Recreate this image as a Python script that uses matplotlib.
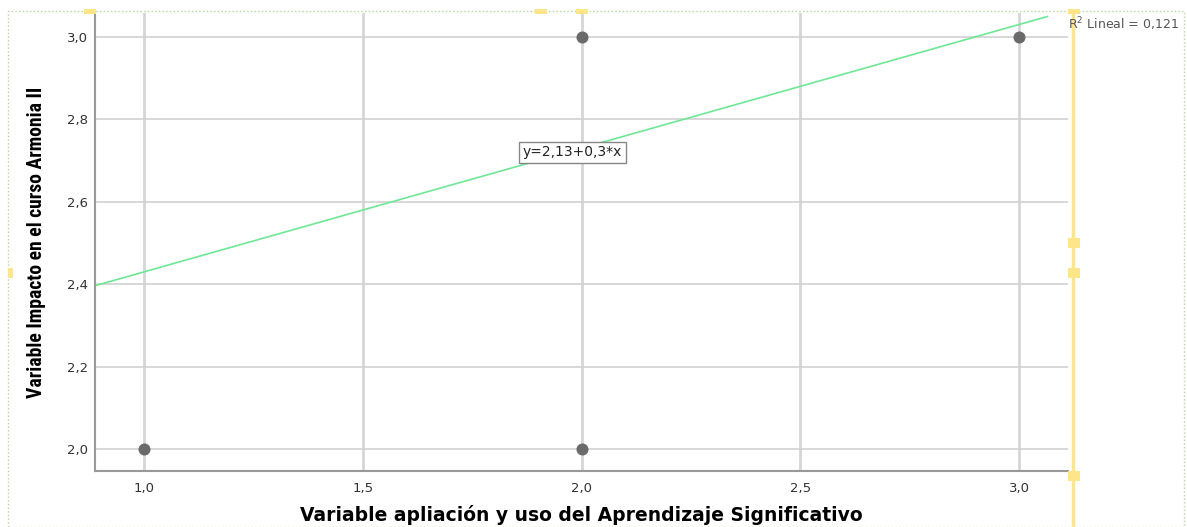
import matplotlib.pyplot as plt
import numpy as np
from matplotlib import font_manager
from matplotlib.patches import Rectangle
from matplotlib.lines import Line2D

# data
xValues = [1.0, 2.0, 2.0, 3.0]
yValues = [2.0, 2.0, 3.0, 3.0]
intercept = 2.13
slope = 0.3
rSquared = '0,121'
fitRange = [0.888, 3.065]
xTicks = [1.0, 1.5, 2.0, 2.5, 3.0]
yTicks = [2.0, 2.2, 2.4, 2.6, 2.8, 3.0]


def commaLabel(v):
    return ('%.1f' % v).replace('.', ',')


def pickNarrowFont():
    names = set(f.name for f in font_manager.fontManager.ttflist)
    for name in ['Liberation Sans Narrow', 'Arial Narrow', 'Roboto Condensed',
                 'Open Sans Condensed', 'Noto Sans Condensed']:
        if name in names:
            return name, 'normal'
    for f in font_manager.fontManager.ttflist:
        if f.name == 'DejaVu Sans' and f.stretch == 'condensed':
            return 'DejaVu Sans', 'condensed'
    return 'Liberation Sans', 'normal'


fig = plt.figure(figsize=(11.87, 5.27), dpi=100)
ax = fig.add_axes([95 / 1187, 56 / 527, 973 / 1187, 458 / 527])

xMin, xMax = 0.888, 3.112
yMin, yMax = 1.947, 3.058
ax.set_xlim(xMin, xMax)
ax.set_ylim(yMin, yMax)

# grid
for xv in xTicks:
    ax.axvline(xv, color='#d6d6d6', linewidth=2.0, zorder=1)
for yv in yTicks:
    ax.axhline(yv, color='#d2d2d2', linewidth=1.2, zorder=1)

# fit line
lineX = np.array(fitRange)
ax.plot(lineX, intercept + slope * lineX, color='#6ee896', linewidth=1.2, zorder=2)

ax.scatter(xValues, yValues, s=75, color='#6a6a6a', zorder=3, linewidths=0)

ax.text(1.866, 2.72, 'y=2,13+0,3*x', fontsize=10, color='#222222', va='center', ha='left',
        bbox=dict(boxstyle='square,pad=0.25', facecolor='white', edgecolor='#888888', linewidth=1.0),
        zorder=4)

ax.set_xticks(xTicks)
ax.set_xticklabels([commaLabel(v) for v in xTicks])
ax.set_yticks(yTicks)
ax.set_yticklabels([commaLabel(v) for v in yTicks])
ax.tick_params(length=0, labelsize=9.5, colors='#333333')
ax.tick_params(axis='x', pad=8)
ax.tick_params(axis='y', pad=5)

for side in ['top', 'right']:
    ax.spines[side].set_visible(False)
for side in ['left', 'bottom']:
    ax.spines[side].set_color('#999999')
    ax.spines[side].set_linewidth(1.5)

ax.set_xlabel('Variable apliación y uso del Aprendizaje Significativo', fontsize=13.5,
              fontweight='bold', family='DejaVu Sans')
ax.xaxis.set_label_coords(0.5, -0.074)

narrowName, narrowStretch = pickNarrowFont()
yLab = ax.set_ylabel('Variable Impacto en el curso Armonia II', fontsize=15, fontweight='bold',
                     family=narrowName, fontstretch=narrowStretch)
ax.yaxis.set_label_coords(-0.050, 0.5)

# fit the label length to the reference (about 311 px)
fig.canvas.draw()
labLen = yLab.get_window_extent().height
yLab.set_fontsize(15 * 311 / labLen)

fig.text(1068 / 1187, 1 - 24 / 527, 'R$^2$ Lineal = ' + rSquared, fontsize=9, color='#555555',
         ha='left', va='center')

# editor frame and handles
fig.patches.append(Rectangle((8 / 1187, 0), 1176 / 1187, 1 - 11 / 527, transform=fig.transFigure,
                             fill=False, edgecolor='#b8d898', linestyle=':', linewidth=1.0))
fig.lines.append(Line2D([1073 / 1187, 1073 / 1187], [0, 1 - 11 / 527], transform=fig.transFigure,
                        color='#fde68a', linewidth=2.5))
for hx, hy, hw, hh in [(1068, 238, 12, 10), (1068, 268, 12, 10), (1068, 471, 12, 10),
                       (1068, 9, 12, 5), (535, 9, 12, 5), (576, 9, 12, 5), (8, 268, 5, 10),
                       (84, 9, 12, 5)]:
    fig.patches.append(Rectangle((hx / 1187, 1 - (hy + hh) / 527), hw / 1187, hh / 527,
                                 transform=fig.transFigure, facecolor='#fde68a', edgecolor='none'))

fig.savefig('out.png', dpi=100)
